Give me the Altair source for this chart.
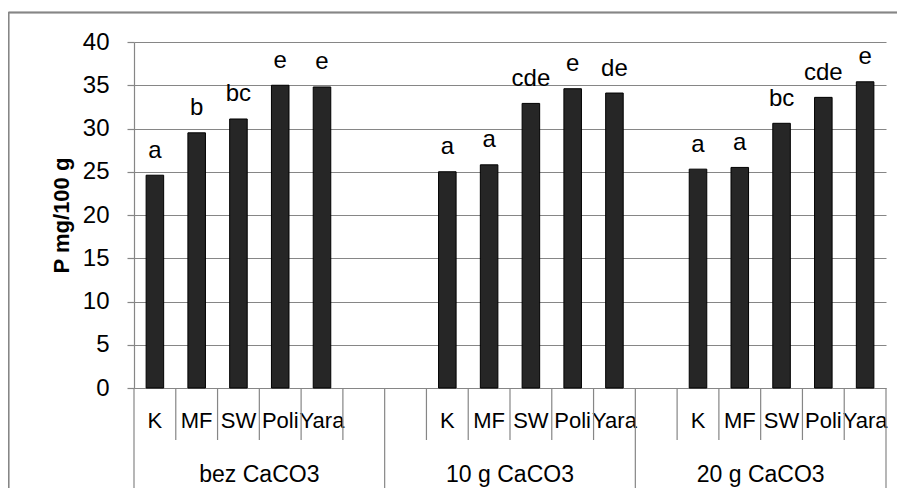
import altair as alt
import pandas as pd

groups = ["bez CaCO3", "10 g CaCO3", "20 g CaCO3"]
treatments = ["K", "MF", "SW", "Poli", "Yara"]
p_bez = [24.6, 29.5, 31.1, 35.0, 34.8]
p_10g = [25.0, 25.8, 32.9, 34.6, 34.1]
p_20g = [25.3, 25.5, 30.6, 33.6, 35.4]
letters_bez = ["a", "b", "bc", "e", "e"]
letters_10g = ["a", "a", "cde", "e", "de"]
letters_20g = ["a", "a", "bc", "cde", "e"]
y_ticks = [0, 5, 10, 15, 20, 25, 30, 35, 40]

values = [p_bez, p_10g, p_20g]
letters = [letters_bez, letters_10g, letters_20g]

rows, slot_order, group_mid, group_start = [], [], [], []
for gi, g in enumerate(groups):
    keys = [f"{g}|{t}" for t in treatments]
    blank = f"{g}|"
    slots = keys + [blank] if gi == 0 else [blank] + keys
    group_start.append(slots[0])
    group_mid.append({"slot": slots[3], "group": g})
    slot_order += slots
    for t, v, l in zip(treatments, values[gi], letters[gi]):
        rows.append({"slot": f"{g}|{t}", "group": g, "treat": t, "value": v, "letter": l})

df = pd.DataFrame(rows)
inner_df = pd.DataFrame({"slot": [s for s in slot_order if s not in group_start]})
gstart_df = pd.DataFrame({"slot": group_start})
last_df = pd.DataFrame({"slot": [slot_order[-1]]})
gmid_df = pd.DataFrame(group_mid)

GRAY = "#868686"
FONT = "Liberation Sans"
W, H = 752, 346

x_axis = alt.Axis(
    title=None, domain=False, ticks=False, grid=False,
    labelExpr="split(datum.value, '|')[1]",
    labelFontSize=22, labelFont=FONT, labelColor="black",
    labelPadding=22, labelAngle=0, labelOverlap=False,
)
x_scale = alt.Scale(domain=slot_order, paddingInner=0, paddingOuter=0)


def xenc(bp=None):
    if bp is None:
        return alt.X("slot:N", sort=slot_order, scale=x_scale, axis=x_axis)
    return alt.X("slot:N", sort=slot_order, scale=x_scale, axis=x_axis, bandPosition=bp)


y_enc = alt.Y(
    "value:Q",
    scale=alt.Scale(domain=[0, 40], nice=False),
    axis=alt.Axis(
        values=y_ticks, title="P mg/100 g", titleFontSize=22, titleFont=FONT,
        titleFontWeight="bold", titleColor="black", titleX=-73, titleY=H / 2,
        titleAngle=270, titleAlign="center", titleBaseline="middle",
        labelFontSize=24, labelFont=FONT, labelColor="black", labelPadding=18,
        tickSize=7, tickColor=GRAY, domainColor=GRAY, gridColor=GRAY,
        grid=True, gridWidth=1.2, domainWidth=1.2, tickWidth=1.2,
    ),
)

bars = alt.Chart(df).mark_bar(
    width={"band": 0.42}, fill="#262626", stroke="black", strokeWidth=1
).encode(x=xenc(), y=y_enc)

labels = alt.Chart(df).mark_text(
    baseline="alphabetic", dy=-17.5, fontSize=24, font=FONT, color="black"
).encode(x=xenc(), y=alt.Y("value:Q"), text="letter:N")

inner_rules = alt.Chart(inner_df).mark_rule(color=GRAY, strokeWidth=1.2).encode(
    x=xenc(0), y=alt.value(H), y2=alt.value(H + 52)
)
group_rules = alt.Chart(gstart_df).mark_rule(color=GRAY, strokeWidth=1.2).encode(
    x=xenc(0), y=alt.value(H), y2=alt.value(H + 102)
)
last_rule = alt.Chart(last_df).mark_rule(color=GRAY, strokeWidth=1.2).encode(
    x=xenc(1), y=alt.value(H), y2=alt.value(H + 102)
)
group_text = alt.Chart(gmid_df).mark_text(
    baseline="alphabetic", fontSize=23, font=FONT, color="black"
).encode(x=xenc(0), y=alt.value(H + 94), text="group:N")

frame_top = alt.Chart(gmid_df).mark_rule(color=GRAY, strokeWidth=1.5).encode(
    x=alt.value(-125.5), x2=alt.value(W + 20), y=alt.value(-29.5)
)
frame_left = alt.Chart(gmid_df).mark_rule(color=GRAY, strokeWidth=1.5).encode(
    x=alt.value(-125.5), y=alt.value(-29.5), y2=alt.value(H + 102)
)

chart = alt.layer(
    bars, labels, inner_rules, group_rules, last_rule, group_text, frame_top, frame_left
).properties(
    width=W, height=H,
    autosize=alt.AutoSizeParams(type="none"),
    padding={"left": 126, "top": 34, "right": 11, "bottom": 100},
    background="white",
).configure_view(stroke=None)

chart.save("out.html", embed_options={"renderer": "svg", "actions": False})
